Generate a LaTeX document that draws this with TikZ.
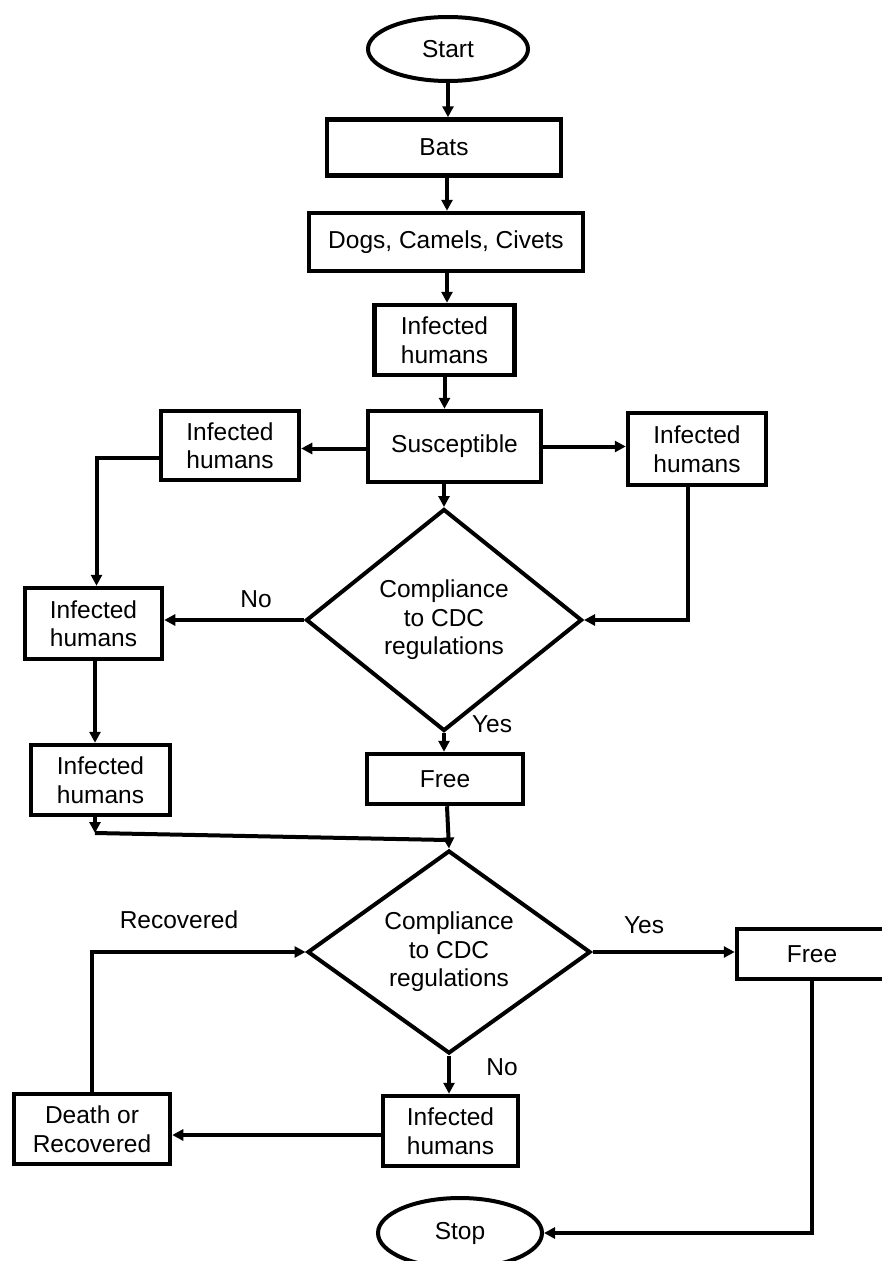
\documentclass[tikz,border=0pt]{standalone}
\usepackage{fontspec}
\setmainfont{Liberation Sans}
\usetikzlibrary{shapes.geometric,arrows.meta}
\begin{document}
\begin{tikzpicture}[x=1pt,y=-1pt,
  txt/.style={font=\fontsize{24.5}{28.5}\selectfont},
  box/.style={txt,draw,line width=4.5pt,rectangle,inner sep=0pt,align=center},
  term/.style={txt,draw,line width=4pt,ellipse,inner sep=0pt},
  dec/.style={txt,draw,line width=4pt,diamond,inner sep=0pt,align=center,aspect=1.3},
  conn/.style={line width=4pt},
  arr/.style={conn,-{Triangle[length=11pt,width=11pt]}},
  lbl/.style={txt,anchor=base,inner sep=0pt}]
\useasboundingbox (0,0) rectangle (882,1261);
% nodes
\node[term,minimum width=160,minimum height=64] (start) at (448,49) {Start};
\node[box,minimum width=234,minimum height=56] (bats) at (444,147.5) {Bats};
\node[box,minimum width=274,minimum height=58] (dogs) at (446,242) {Dogs, Camels, Civets};
\node[box,minimum width=140,minimum height=70] (inf1) at (444.5,340) {Infected\\humans};
\node[box,minimum width=173,minimum height=71] (susc) at (454.5,446.5) {Susceptible};
\node[box,minimum width=138,minimum height=69] (infL) at (230,445.5) {Infected\\humans};
\node[box,minimum width=138,minimum height=72] (infR) at (697,449) {Infected\\humans};
\node[dec,minimum width=276,minimum height=222] (d1) at (444,620) {Compliance\\to CDC\\regulations};
\node[box,minimum width=137,minimum height=71] (infL2) at (93.5,623.5) {Infected\\humans};
\node[box,minimum width=139,minimum height=70] (infL3) at (100.5,780) {Infected\\humans};
\node[box,minimum width=156,minimum height=50] (free1) at (445,779) {Free};
\node[dec,minimum width=283,minimum height=203] (d2) at (449,952) {Compliance\\to CDC\\regulations};
\node[box,minimum width=150,minimum height=50] (free2) at (812,954) {Free};
\node[box,minimum width=135,minimum height=70] (infB) at (450.5,1131) {Infected\\humans};
\node[box,minimum width=156,minimum height=70] (death) at (92,1129) {Death or\\Recovered};
\node[term,minimum width=164,minimum height=70] (stop) at (460,1233) {Stop};
% labels
\node[lbl] (no1) at (256,607) {No};
\node[lbl] (yes1) at (492,732) {Yes};
\node[lbl] (yes2) at (644,933) {Yes};
\node[lbl] (no2) at (502,1075) {No};
\node[lbl] (rec) at (179,928) {Recovered};
% junctions
\coordinate (j1) at (95,833);
\coordinate (j2) at (447,840);
% connectors
\draw[arr] (start.south) -- (start.south |- bats.north);
\draw[arr] ([xshift=3pt]bats.south) -- ([xshift=3pt]bats.south |- dogs.north);
\draw[arr] ([xshift=1pt]dogs.south) -- ([xshift=1pt]dogs.south |- inf1.north);
\draw[arr] (inf1.south) -- (inf1.south |- susc.north);
\draw[arr] (d1.north |- susc.south) -- (d1.north);
\draw[arr] ([yshift=-2pt]susc.west) -- ([yshift=-2pt]susc.west -| infL.east);
\draw[arr] (susc.east) -- (susc.east -| infR.west);
\draw[arr] ([yshift=-12pt]infL.west) -| ([xshift=3pt]infL2.north);
\draw[arr] (d1.west) -- (d1.west -| infL2.east);
\draw[arr] ([xshift=-9pt]infR.south) |- (d1.east);
\draw[arr] (d1.south) -- (d1.south |- free1.north);
\draw[arr] ([xshift=1.5pt]infL2.south) -- ([xshift=1.5pt]infL2.south |- infL3.north);
\draw[arr] ([xshift=-5.5pt]infL3.south) -- (j1);
\draw[conn] (j1) -- (j2);
\draw[arr] ([xshift=2pt]free1.south) -- (d2.north);
\draw[arr] (d2.east) -- (d2.east -| free2.west);
\draw[arr] (d2.south) -- (d2.south |- infB.north);
\draw[arr] ([yshift=-4pt]infB.west) -- ([yshift=-4pt]infB.west -| death.east);
\draw[arr] (death.north) |- (d2.west);
\draw[arr] (free2.south) |- (stop.east);
\end{tikzpicture}
\end{document}
